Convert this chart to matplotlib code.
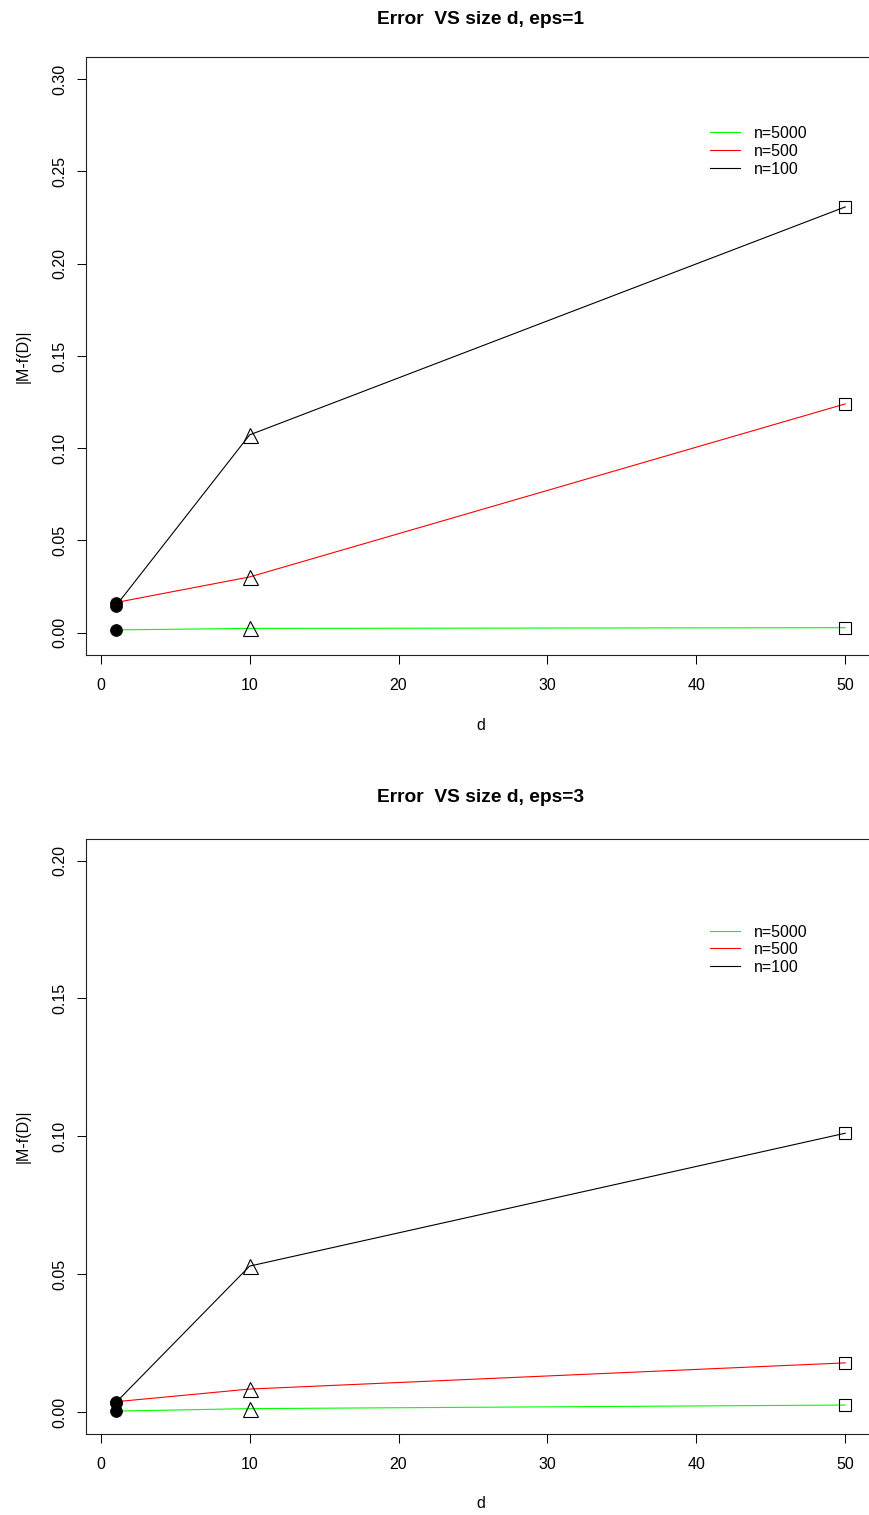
import matplotlib
matplotlib.use("Agg")
import matplotlib.pyplot as plt

# ---- data ----
d_values = [1, 10, 50]
series_labels = ["n=5000", "n=500", "n=100"]

# eps = 1
eps1_n5000 = [0.0015, 0.0023, 0.0027]
eps1_n500 = [0.0163, 0.0302, 0.1240]
eps1_n100 = [0.0143, 0.1072, 0.2308]

# eps = 3
eps3_n5000 = [0.0003, 0.0012, 0.0025]
eps3_n500 = [0.0037, 0.0083, 0.0178]
eps3_n100 = [0.0033, 0.0529, 0.1011]

titles = ["Error  VS size d, eps=1", "Error  VS size d, eps=3"]
ylims = [(0, 0.30), (0, 0.20)]
yticks_list = [[0.00, 0.05, 0.10, 0.15, 0.20, 0.25, 0.30],
               [0.00, 0.05, 0.10, 0.15, 0.20]]
xticks = [0, 10, 20, 30, 40, 50]
xlabel = "d"
ylabel = "|M-f(D)|"

# ---- style ----
colors = {"n=5000": "#00ff00", "n=500": "#ff0000", "n=100": "#000000"}
point_markers = ["o", "^", "s"]
point_sizes = [8.6, 10.8, 8.1]

FS = 11.5
plt.rcParams["font.family"] = ["Liberation Sans", "DejaVu Sans"]

W, H = 870, 1515
fig = plt.figure(figsize=(W / 100, H / 100), dpi=100)

def px_rect(left, top, right, bottom):
    return [left / W, 1 - bottom / H, (right - left) / W, (bottom - top) / H]

panels = [
    dict(rect=px_rect(86.4, 57.1, 874.4, 654.8),
         data={"n=5000": eps1_n5000, "n=500": eps1_n500, "n=100": eps1_n100},
         title_y=19.5, xlabel_y=725, ylabel_x=23, center_y=(57.1 + 654.8) / 2,
         leg_rows=[0.8752, 0.8446, 0.8150]),
    dict(rect=px_rect(86.4, 838.5, 874.4, 1434.0),
         data={"n=5000": eps3_n5000, "n=500": eps3_n500, "n=100": eps3_n100},
         title_y=797.5, xlabel_y=1503, ylabel_x=23, center_y=(838.5 + 1434.0) / 2,
         leg_rows=[0.8447, 0.8156, 0.7864]),
]

for i, p in enumerate(panels):
    ax = fig.add_axes(p["rect"])
    # lines (black first, then red, then green)
    for lab in ["n=100", "n=500", "n=5000"]:
        ax.plot(d_values, p["data"][lab], color=colors[lab], lw=0.8, zorder=2)
    # point markers
    for lab in ["n=100", "n=500", "n=5000"]:
        vals = p["data"][lab]
        for j, (dv, v) in enumerate(zip(d_values, vals)):
            m = point_markers[j]
            if m == "o":
                ax.plot([dv], [v], marker=m, ms=point_sizes[j], mfc="black",
                        mec="black", mew=0.5, ls="none", zorder=4)
            else:
                ax.plot([dv], [v], marker=m, ms=point_sizes[j], mfc="none",
                        mec="black", mew=0.8, ls="none", zorder=3)

    lo, hi = ylims[i]
    ext = 0.04 * (hi - lo)
    ax.set_ylim(lo - ext, hi + ext)
    ax.set_xlim(1 - 0.04 * 49, 50 + 0.04 * 49)
    ax.set_xticks(xticks)
    ax.set_xticklabels([str(t) for t in xticks])
    ax.set_yticks(yticks_list[i])
    ax.set_yticklabels(["%.2f" % t for t in yticks_list[i]])
    ax.tick_params(direction="out", length=6.5, width=0.75, labelsize=FS,
                   colors="black")
    ax.tick_params(axis="x", pad=10)
    ax.tick_params(axis="y", pad=7)
    for lbl in ax.get_yticklabels():
        lbl.set_rotation(90)
        lbl.set_va("center")
    for s in ax.spines.values():
        s.set_linewidth(0.8)
        s.set_color("#222222")

    # legend (no frame)
    for lab, yy in zip(series_labels, p["leg_rows"]):
        ax.plot([0.7914, 0.8294], [yy, yy], color=colors[lab], lw=0.8,
                transform=ax.transAxes, clip_on=False)
        ax.text(0.8472, yy, lab, transform=ax.transAxes, fontsize=FS,
                ha="left", va="center_baseline")

    cx = (86.4 + 874.4) / 2 / W
    fig.text(cx, 1 - p["title_y"] / H, titles[i], ha="center", va="center",
             fontsize=13.8, fontweight="bold")
    fig.text(cx, 1 - p["xlabel_y"] / H, xlabel, ha="center", va="center",
             fontsize=FS)
    fig.text(p["ylabel_x"] / W, 1 - p["center_y"] / H, ylabel, ha="center",
             va="center", rotation=90, fontsize=FS)

fig.savefig("out.png", dpi=100)
